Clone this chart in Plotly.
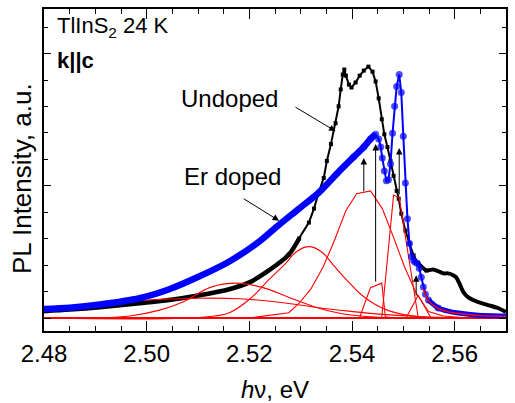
import plotly.graph_objects as go

# ---------------- data ----------------
# Undoped (black squares)
BLACK_X = [2.4800, 2.4850, 2.4909, 2.4986, 2.5044, 2.5103, 2.5161, 2.5200, 2.5238, 2.5277,
           2.5297, 2.5316, 2.5326, 2.5335, 2.5345, 2.5351, 2.5359, 2.5368, 2.5374, 2.5378,
           2.5382, 2.5385, 2.5388, 2.5394, 2.5399, 2.5407, 2.5415, 2.5423, 2.5432, 2.5440,
           2.5446, 2.5452, 2.5458, 2.5463, 2.5469, 2.5475, 2.5481, 2.5487, 2.5491, 2.5496,
           2.5504, 2.5512, 2.5520, 2.5529, 2.5545, 2.5558, 2.5568, 2.5578, 2.5587, 2.5597,
           2.5603, 2.5609, 2.5617, 2.5626, 2.5646, 2.5665, 2.5684, 2.5700]
BLACK_Y = [0.26, 0.32, 0.41, 0.56, 0.68, 0.86, 1.09, 1.35, 1.80, 2.40,
           3.01, 3.61, 4.14, 4.74, 5.30, 5.94, 6.58, 7.37, 8.01, 8.65,
           9.21, 9.40, 9.17, 8.83, 8.72, 8.91, 9.17, 9.36, 9.51, 9.32,
           8.95, 8.31, 7.52, 6.95, 6.47, 5.94, 5.38, 4.81, 4.51, 3.95,
           3.31, 2.82, 2.37, 2.07, 1.80, 1.84, 1.77, 1.69, 1.69, 1.62,
           1.54, 1.32, 0.98, 0.79, 0.60, 0.49, 0.38, 0.23]

# Er doped (blue circles)
BLUE_X = [2.4800, 2.4850, 2.4909, 2.4986, 2.5044, 2.5103, 2.5161, 2.5219, 2.5258, 2.5297,
          2.5335, 2.5374, 2.5403, 2.5423, 2.5436, 2.5446, 2.5452, 2.5456, 2.5459, 2.5463,
          2.5467, 2.5471, 2.5475, 2.5479, 2.5483, 2.5487, 2.5492, 2.5496, 2.5500, 2.5504,
          2.5508, 2.5512, 2.5516, 2.5520, 2.5523, 2.5527, 2.5531, 2.5535, 2.5539, 2.5543,
          2.5549, 2.5568, 2.5587, 2.5607, 2.5646, 2.5700]
BLUE_Y = [0.34, 0.39, 0.51, 0.75, 1.09, 1.58, 2.14, 2.89, 3.53, 4.14,
          4.74, 5.53, 6.09, 6.47, 6.77, 6.95, 6.77, 6.47, 6.05, 5.56,
          5.19, 5.23, 5.83, 6.99, 8.01, 8.76, 9.21, 8.53, 6.88, 5.11,
          3.76, 2.82, 2.33, 2.18, 2.11, 2.07, 1.88, 1.54, 1.17, 0.90,
          0.68, 0.38, 0.26, 0.19, 0.11, 0.08]

# fitted components (red)
G1_X = [2.4800, 2.4870, 2.4947, 2.5025, 2.5103, 2.5180, 2.5258, 2.5335, 2.5394, 2.5452, 2.5529, 2.5626, 2.5700]
G1_Y = [0.30, 0.43, 0.60, 0.70, 0.75, 0.73, 0.60, 0.39, 0.26, 0.15, 0.06, 0.01, 0.00]

G2_X = [2.4800, 2.4909, 2.4967, 2.5025, 2.5073, 2.5124, 2.5174, 2.5225, 2.5275, 2.5326, 2.5376, 2.5427, 2.5491, 2.5587]
G2_Y = [0.00, 0.01, 0.08, 0.30, 0.63, 1.16, 1.32, 1.16, 0.80, 0.43, 0.18, 0.06, 0.01, 0.00]

G3_X = [2.4800, 2.5103, 2.5161, 2.5205, 2.5238, 2.5271, 2.5291, 2.5316, 2.5341, 2.5366, 2.5394, 2.5417, 2.5442, 2.5471, 2.5510, 2.5549, 2.5607]
G3_Y = [0.00, 0.02, 0.20, 0.79, 1.45, 2.07, 2.50, 2.70, 2.50, 1.95, 1.35, 0.90, 0.55, 0.28, 0.10, 0.03, 0.00]

G4_X = [2.5200, 2.5277, 2.5297, 2.5320, 2.5343, 2.5364, 2.5388, 2.5409, 2.5436, 2.5459, 2.5481, 2.5502, 2.5525, 2.5549, 2.5578, 2.5626]
G4_Y = [0.00, 0.20, 0.56, 1.10, 1.90, 2.85, 4.06, 4.70, 4.81, 4.14, 3.05, 1.95, 0.95, 0.25, 0.08, 0.00]

G5_X = [2.5403, 2.5415, 2.5436, 2.5458, 2.5465, 2.5481]
G5_Y = [0.00, 0.02, 1.15, 1.32, 0.05, 0.00]

G6_X = [2.5452, 2.5458, 2.5481, 2.5492, 2.5529, 2.5549]
G6_Y = [0.00, 0.02, 4.65, 4.55, 0.02, 0.00]

G7_X = [2.5491, 2.5506, 2.5529, 2.5553, 2.5578]
G7_Y = [0.00, 0.03, 0.86, 0.03, 0.00]

TAIL_X = [2.5539, 2.5549, 2.5568, 2.5587, 2.5607, 2.5646, 2.5700]
TAIL_Y = [1.10, 0.65, 0.36, 0.24, 0.17, 0.10, 0.07]

BASE_X = [2.48, 2.57]
BASE_Y = [0.0, 0.0]

X_TICKS = [2.48, 2.50, 2.52, 2.54, 2.56]
X_TICK_LABELS = ["2.48", "2.50", "2.52", "2.54", "2.56"]

# vertical arrows: (x, y_from, y_to)
V_ARROWS = [(2.5423, 4.74, 6.05), (2.5446, 1.32, 6.58), (2.5492, 4.62, 6.43), (2.5525, 0.79, 1.62)]

# ---------------- figure ----------------
FONT = "Liberation Sans, Arial, sans-serif"
RED = "#ff0000"
BLUE = "#0000ff"

fig = go.Figure()

# undoped: dense parts drawn thick
fig.add_trace(go.Scatter(x=BLACK_X[:11], y=BLACK_Y[:11], mode="lines",
                         line=dict(color="black", width=4.5, shape="spline", smoothing=0.8)))
fig.add_trace(go.Scatter(x=BLACK_X[43:], y=BLACK_Y[43:], mode="lines",
                         line=dict(color="black", width=4, shape="spline", smoothing=0.6)))
fig.add_trace(go.Scatter(x=BLACK_X[9:45], y=BLACK_Y[9:45], mode="lines+markers",
                         line=dict(color="black", width=2),
                         marker=dict(symbol="square", size=4, color="black")))

for cx, cy, shp in [(G1_X, G1_Y, "spline"), (G2_X, G2_Y, "spline"), (G3_X, G3_Y, "spline"),
                    (G4_X, G4_Y, "linear"), (G5_X, G5_Y, "linear"), (G6_X, G6_Y, "linear"),
                    (G7_X, G7_Y, "linear")]:
    fig.add_trace(go.Scatter(x=cx, y=cy, mode="lines",
                             line=dict(color=RED, width=1.1, shape=shp)))
fig.add_trace(go.Scatter(x=BASE_X, y=BASE_Y, mode="lines",
                         line=dict(color=RED, width=2)))

# Er doped
fig.add_trace(go.Scatter(x=BLUE_X[:16], y=BLUE_Y[:16], mode="lines",
                         line=dict(color=BLUE, width=6.5, shape="spline", smoothing=0.8)))
fig.add_trace(go.Scatter(x=BLUE_X[40:], y=BLUE_Y[40:], mode="lines",
                         line=dict(color=BLUE, width=5, shape="spline", smoothing=0.6)))
sizes = [0 if (i < 12 or i > 41) else 7 for i in range(len(BLUE_X))]
fig.add_trace(go.Scatter(x=BLUE_X[11:42], y=BLUE_Y[11:42], mode="lines+markers",
                         line=dict(color=BLUE, width=2),
                         marker=dict(symbol="circle", size=sizes[11:42], color=BLUE, line=dict(width=0))))
fig.add_trace(go.Scatter(x=TAIL_X, y=TAIL_Y, mode="lines",
                         line=dict(color=RED, width=1.5, shape="spline", smoothing=0.6)))

ann = []
for (xv, y0, y1) in V_ARROWS:
    ann.append(dict(x=xv, y=y1, ax=xv, ay=y0, xref="x", yref="y", axref="x", ayref="y",
                    text="", showarrow=True, arrowhead=2, arrowsize=1.3, arrowwidth=1,
                    arrowcolor="black"))
# label arrows
ann.append(dict(x=2.5368, y=7.07, ax=2.5287, ay=8.01, xref="x", yref="y", axref="x", ayref="y",
                text="", showarrow=True, arrowhead=2, arrowsize=1.3, arrowwidth=1, arrowcolor="black"))
ann.append(dict(x=2.5258, y=3.68, ax=2.5186, ay=4.55, xref="x", yref="y", axref="x", ayref="y",
                text="", showarrow=True, arrowhead=2, arrowsize=1.3, arrowwidth=1, arrowcolor="black"))
ann.append(dict(x=2.5161, y=8.31, xref="x", yref="y", text="Undoped", showarrow=False,
                font=dict(family=FONT, size=24, color="black"), xanchor="center", yanchor="middle"))
ann.append(dict(x=2.5168, y=5.34, xref="x", yref="y", text="Er doped", showarrow=False,
                font=dict(family=FONT, size=24, color="black"), xanchor="center", yanchor="middle"))
ann.append(dict(x=0.0237, y=0.944, xref="paper", yref="paper", text="TlInS<sub>2</sub> 24 K",
                showarrow=False, font=dict(family=FONT, size=22, color="black"),
                xanchor="left", yanchor="middle"))
ann.append(dict(x=0.0237, y=0.840, xref="paper", yref="paper", text="<b>k||c</b>",
                showarrow=False, font=dict(family=FONT, size=22, color="black"),
                xanchor="left", yanchor="middle"))
ann.append(dict(x=0.5, y=-0.182, xref="paper", yref="paper", text="<i>h</i>ν, eV",
                showarrow=False, font=dict(family=FONT, size=24, color="black"),
                xanchor="center", yanchor="middle"))
ann.append(dict(x=-0.0474, y=0.472, xref="paper", yref="paper", text="PL Intensity, a.u.",
                showarrow=False, textangle=-90, font=dict(family=FONT, size=26, color="black"),
                xanchor="center", yanchor="middle"))

fig.update_layout(
    width=515, height=403,
    margin=dict(l=44, r=7, t=7, b=72),
    paper_bgcolor="white", plot_bgcolor="white",
    showlegend=False,
    annotations=ann,
    font=dict(family=FONT, color="black"),
    xaxis=dict(range=[2.48, 2.57], tickmode="array", tickvals=X_TICKS, ticktext=X_TICK_LABELS,
               ticks="inside", ticklen=10, tickwidth=1.2, tickcolor="black",
               minor=dict(tickmode="linear", tick0=2.48, dtick=0.005, ticks="inside", ticklen=5,
                          tickwidth=1.2, tickcolor="black"),
               showline=True, linecolor="black", linewidth=1.5, mirror="ticks",
               showgrid=False, zeroline=False,
               tickfont=dict(family=FONT, size=24, color="black")),
    yaxis=dict(range=[-0.49, 11.69], tickmode="linear", tick0=0, dtick=5,
               showticklabels=False,
               ticks="inside", ticklen=7, tickwidth=1.2, tickcolor="black",
               minor=dict(tickmode="linear", tick0=0, dtick=1, ticks="inside", ticklen=4,
                          tickwidth=1.2, tickcolor="black"),
               showline=True, linecolor="black", linewidth=1.5, mirror="ticks",
               showgrid=False, zeroline=False),
)

fig.write_html("out.html", config={"displayModeBar": False},
               post_script="document.body.style.margin='0px';document.body.style.overflow='hidden';")
